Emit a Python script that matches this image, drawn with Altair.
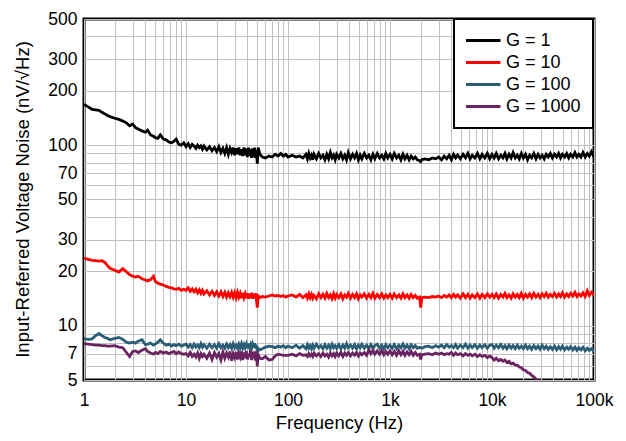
import altair as alt
import pandas as pd

# Frequency grid (Hz), per decade
f_d0 = [1, 1.1, 1.2, 1.3, 1.4, 1.5, 1.6, 1.7, 1.8, 2, 2.2, 2.4, 2.6, 2.8, 3, 3.2, 3.4, 3.7, 4, 4.2,
        4.5, 4.8, 5, 5.3, 5.6, 6, 6.4, 6.8, 7.2, 7.6, 8, 8.5, 9, 9.5]
f_d1 = [10, 10.5, 11, 11.5, 12, 12.5, 13, 13.5, 14, 14.5,
        15, 16, 17, 18, 19, 20, 21, 22, 23, 24, 25, 26, 27, 28, 29, 30, 31, 32, 33, 34,
        35, 36, 37, 38, 39, 40, 41, 42, 43, 44, 45, 46, 47, 48, 49, 50,
        51, 53, 56, 60, 65, 70, 75, 80, 85, 90, 95]
f_d2 = [100, 110, 120, 130, 140, 150, 155, 160, 165, 170, 175, 180,
        190, 200, 210, 220, 230, 240, 250, 260, 270, 280, 290, 300,
        315, 330, 345, 360, 375, 390, 410, 430, 450, 470, 490, 510, 530,
        560, 590, 620, 650, 680, 710, 750, 790, 830, 870, 910, 950]
f_d3 = [1000, 1050, 1100, 1160, 1220, 1280, 1340, 1400, 1470, 1540, 1610, 1690, 1770, 1850, 1950,
        2000, 2050, 2200, 2400, 2600, 2800, 3000, 3200, 3400, 3600, 3800,
        4000, 4200, 4400, 4600, 4900, 5200, 5500, 5800, 6100, 6400,
        6800, 7200, 7600, 8000, 8500, 9000, 9500]
f_d4 = [10000, 10500, 11000, 11600, 12200, 12800, 13400, 14000, 14700, 15400,
        16100, 16900, 17700, 18500, 19400, 20300, 21300, 22300, 23400, 24500,
        25700, 27000, 28300, 29600, 31000, 32500, 34000, 35600, 37300, 39100,
        41000, 43000, 45000, 47000, 49000, 51500, 54000, 56500, 59000, 62000,
        65000, 68000, 71000, 74500, 78000, 82000, 86000, 90000, 94500, 100000]

# G = 1 (nV/rtHz)
g1_d0 = [168, 163, 158, 157, 156, 152, 149, 146, 144, 141, 139, 136, 133, 128, 131, 125, 123, 120, 118, 121,
         114, 112, 110, 109, 114, 108, 107, 104, 103, 105, 108, 101, 100, 103]
g1_d1 = [98, 102, 97, 101, 99, 96, 100, 97, 99, 95,
         99, 94, 98, 93, 97, 92, 98, 91, 96, 90, 97, 89, 96, 91, 97, 88, 96, 89, 97, 88,
         95, 87, 97, 88, 96, 86, 97, 87, 95, 85, 96, 86, 97, 85, 94, 79,
         97, 89, 86, 85, 87, 86, 89, 87, 90, 87, 89]
g1_d2 = [86, 88, 86, 87, 85, 89, 84, 90, 85, 88, 83, 89,
         84, 90, 85, 88, 83, 89, 84, 91, 85, 88, 83, 89,
         85, 90, 84, 88, 83, 91, 84, 89, 85, 90, 83, 88, 84,
         90, 85, 88, 83, 89, 84, 90, 85, 88, 84, 90, 85]
g1_d3 = [89, 84, 90, 85, 88, 83, 89, 84, 88, 83, 87, 84, 86, 83, 82,
         81, 83, 84, 83, 85, 84, 86, 83, 87, 84, 88,
         83, 89, 85, 88, 84, 89, 85, 90, 84, 88,
         85, 90, 84, 89, 85, 90, 84]
g1_d4 = [89, 85, 90, 84, 88, 85, 90, 84, 89, 85,
         91, 85, 88, 84, 90, 85, 89, 83, 88, 85,
         90, 84, 89, 85, 88, 84, 89, 86, 90, 85,
         89, 86, 90, 85, 89, 86, 90, 85, 89, 86,
         91, 86, 89, 86, 91, 86, 90, 87, 92, 86]

# G = 10
g10_d0 = [23.7, 23.3, 23.0, 22.9, 22.8, 22.9, 22.4, 21.5, 20.8, 20.3,
          19.8, 20.7, 19.9, 19.2, 18.8, 18.6, 18.8, 18.2, 17.9, 17.7,
          18.0, 18.8, 17.6, 17.2, 17.0, 16.8, 16.5, 16.3, 16.2, 16.0,
          15.9, 16.1, 15.7, 15.9]
g10_d1 = [15.7, 16.2, 15.5, 16.0, 15.4, 15.9, 15.2, 15.8, 15.1, 15.7,
          15.0, 15.6, 14.8, 15.5, 14.7, 15.4, 14.6, 15.4, 14.5, 15.3,
          14.4, 15.2, 14.5, 15.3, 14.4, 15.2, 14.3, 15.3, 14.4, 15.1,
          14.2, 15.2, 14.3, 15.0, 14.2, 15.1, 14.1, 15.0, 14.2, 15.2,
          14.1, 15.0, 14.2, 15.1, 14.0, 12.6,
          14.6, 14.3, 14.5, 14.4, 14.6, 14.8, 14.6, 14.7, 14.5, 14.7, 14.4]
g10_d2 = [14.6, 14.8, 14.4, 14.9, 14.3, 14.8, 14.2, 15.0, 14.3, 14.9, 14.2, 14.7,
          14.1, 15.0, 14.3, 14.9, 14.2, 15.1, 14.3, 14.8, 14.1, 15.0, 14.2, 14.9,
          14.3, 15.0, 14.1, 14.8, 14.4, 15.1,
          14.2, 14.9, 14.3, 15.0, 14.1, 14.8, 14.4,
          15.0, 14.2, 14.9, 14.3, 15.1, 14.2,
          14.9, 14.3, 15.0, 14.2, 14.8, 14.3]
g10_d3 = [14.9, 14.2, 15.0, 14.3, 14.8, 14.2, 15.0, 14.3, 14.8, 14.2, 14.9, 14.3, 14.7, 14.2, 14.4,
          12.6, 14.3,
          14.4, 14.3, 14.5, 14.4, 14.6, 14.3, 14.7, 14.4, 14.8,
          14.3, 14.9, 14.4, 14.8,
          14.2, 15.0, 14.3, 14.9, 14.2, 14.8,
          14.3, 15.0, 14.2, 14.9,
          14.3, 15.0, 14.4]
g10_d4 = [14.9, 14.3, 15.0, 14.2, 14.9, 14.4, 15.1, 14.3, 14.8, 14.2,
          15.0, 14.4, 14.9, 14.3, 15.1, 14.2, 14.9, 14.4, 15.0, 14.3,
          15.1, 14.4, 14.9, 14.3, 15.0, 14.5, 15.1, 14.4, 14.9, 14.5,
          15.1, 14.4, 15.0, 14.5, 15.2, 14.4, 15.0, 14.5, 15.1, 14.6,
          15.3, 14.5, 15.0, 14.6, 15.2, 14.5, 15.6, 14.7, 15.3, 14.8]

# G = 100
g100_d0 = [8.45, 8.4, 8.45, 8.8, 9.05, 8.8, 8.6, 8.5, 8.35, 8.5,
           8.6, 8.4, 8.1, 8.0, 8.1, 8.0, 8.2, 8.35, 7.85, 7.9,
           8.0, 7.8, 7.9, 8.1, 8.35, 8.0, 7.8, 7.9, 7.7, 7.85,
           7.75, 7.9, 7.7, 7.8]
g100_d1 = [7.9, 7.6, 7.85, 7.55, 7.9, 7.6, 7.8, 7.55, 7.95, 7.6,
           7.85, 7.5, 7.9, 7.55, 7.85, 7.5, 7.95, 7.55, 7.8, 7.5,
           7.9, 7.55, 7.85, 7.5, 7.95, 7.55, 7.8, 7.5, 7.9, 7.55,
           7.95, 7.5, 7.85, 7.55, 7.9, 7.5, 7.95, 7.55, 7.85, 7.5,
           7.9, 7.55, 8.0, 7.5, 7.85, 7.05,
           7.5, 7.35, 7.45, 7.6, 7.7, 7.65, 7.55, 7.7, 7.6, 7.75, 7.55]
g100_d2 = [7.7, 7.55, 7.8, 7.5, 7.75, 7.45, 7.85, 7.5, 7.75, 7.45, 7.8, 7.5,
           7.9, 7.55, 7.75, 7.45, 7.85, 7.5, 7.8, 7.45, 7.9, 7.55, 7.75, 7.5,
           7.85, 7.45, 7.8, 7.5, 7.95, 7.55,
           7.8, 7.5, 7.85, 7.45, 7.8, 7.55, 7.9,
           7.5, 7.8, 7.45, 7.85, 7.5, 7.75,
           7.9, 7.5, 7.8, 7.45, 7.85, 7.55]
g100_d3 = [7.8, 7.5, 7.85, 7.45, 7.8, 7.55, 7.9, 7.5, 7.8, 7.45, 7.85, 7.55, 7.75, 7.5, 7.6,
           7.55, 7.5,
           7.65, 7.7, 7.55, 7.75, 7.6, 7.8, 7.55, 7.85, 7.6,
           7.75, 7.55, 7.85, 7.5,
           7.8, 7.55, 7.9, 7.5, 7.8, 7.55,
           7.85, 7.5, 7.8, 7.55,
           7.85, 7.5, 7.8]
g100_d4 = [7.85, 7.5, 7.8, 7.55, 7.85, 7.5, 7.75, 7.45, 7.8, 7.5,
           7.75, 7.45, 7.8, 7.5, 7.7, 7.45, 7.8, 7.45, 7.7, 7.4,
           7.75, 7.45, 7.7, 7.4, 7.8, 7.45, 7.7, 7.4, 7.65, 7.4,
           7.7, 7.35, 7.65, 7.4, 7.7, 7.35, 7.6, 7.4, 7.65, 7.35,
           7.6, 7.3, 7.55, 7.35, 7.6, 7.25, 7.5, 7.3, 7.45, 7.2]

# G = 1000
g1000_d0 = [7.95, 7.9, 7.85, 7.8, 7.8, 7.75, 7.75, 7.7, 7.7, 7.75,
            7.6, 7.55, 7.1, 6.75, 7.2, 7.25, 7.1, 7.3, 7.45, 7.2,
            7.05, 6.95, 7.1, 7.0, 7.2, 7.05, 7.15, 7.0, 7.1, 7.2,
            7.0, 7.15, 7.0, 6.95]
g1000_d1 = [7.0, 6.8, 7.1, 6.75, 6.95, 6.7, 7.05, 6.6, 7.0, 6.75,
            6.95, 6.6, 7.05, 6.5, 7.1, 6.7, 7.0, 6.45, 7.15, 6.6,
            7.05, 6.7, 7.2, 6.4, 7.0, 6.65, 7.15, 6.5, 7.05, 6.7,
            7.2, 6.45, 7.1, 6.6, 7.25, 6.5, 7.0, 6.7, 7.3, 6.45,
            7.15, 6.6, 7.2, 6.4, 7.05, 5.95,
            6.9, 6.6, 6.55, 6.75, 6.45, 6.5, 6.8, 6.95, 6.9, 6.85, 6.85]
g1000_d2 = [6.85, 6.95, 6.8, 7.0, 6.85, 6.9, 6.75, 7.0, 6.8, 6.95, 6.75, 7.05,
            6.8, 7.0, 6.75, 7.05, 6.8, 6.95, 6.7, 7.05, 6.8, 7.0, 6.75, 7.05,
            6.8, 7.1, 6.75, 7.05, 6.85, 7.1,
            6.8, 7.05, 6.85, 7.1, 6.8, 7.05, 6.9,
            7.1, 6.85, 7.35, 7.0, 7.3, 6.95,
            7.25, 6.95, 7.3, 6.9, 7.2, 6.95]
g1000_d3 = [7.25, 6.9, 7.2, 6.85, 7.25, 6.9, 7.2, 6.85, 7.15, 6.9, 7.2, 6.85, 7.1, 6.85, 6.95,
            6.5, 6.9,
            6.95, 7.0, 6.9, 7.05, 6.95, 7.05, 6.9, 7.0, 6.95,
            7.1, 6.85, 7.05, 6.9,
            7.0, 6.8, 7.0, 6.85, 6.95, 6.8,
            6.95, 6.75, 6.9, 6.75,
            6.85, 6.65, 6.8]
g1000_d4 = [6.65, 6.45, 6.6, 6.4, 6.5, 6.35, 6.45, 6.25, 6.35, 6.15,
            6.2, 6.05, 6.05, 5.9, 5.85, 5.7, 5.65, 5.5, 5.45, 5.3,
            5.2, 5.05, 4.95, 4.8, 4.65, 4.5]

freq_decades = [f_d0, f_d1, f_d2, f_d3, f_d4]
series = {
    "G = 1": [g1_d0, g1_d1, g1_d2, g1_d3, g1_d4],
    "G = 10": [g10_d0, g10_d1, g10_d2, g10_d3, g10_d4],
    "G = 100": [g100_d0, g100_d1, g100_d2, g100_d3, g100_d4],
    "G = 1000": [g1000_d0, g1000_d1, g1000_d2, g1000_d3, g1000_d4],
}
labels = ["G = 1", "G = 10", "G = 100", "G = 1000"]
colors = ["#000000", "#ff0000", "#2a5e76", "#6a2461"]

rows = []
for name, decs in series.items():
    order = 0
    for fs, vs in zip(freq_decades, decs):
        for f, v in zip(fs, vs):
            rows.append({"f": f, "v": v, "g": name, "o": order})
            order += 1
df = pd.DataFrame(rows)

x_grid = [1, 2, 3, 4, 5, 6, 7, 8, 9, 10, 20, 30, 40, 50, 60, 70, 80, 90,
          100, 200, 300, 400, 500, 600, 700, 800, 900,
          1000, 2000, 3000, 4000, 5000, 6000, 7000, 8000, 9000,
          10000, 20000, 30000, 40000, 50000, 60000, 70000, 80000, 90000, 100000]
y_grid = [5, 6, 7, 8, 9, 10, 20, 30, 40, 50, 60, 70, 80, 90, 100, 200, 300, 400, 500]

font = "Liberation Sans"

chart = alt.Chart(df).mark_line(strokeWidth=2.8, clip=True).encode(
    x=alt.X("f:Q",
            scale=alt.Scale(type="log", domain=[1, 100000], nice=False),
            axis=alt.Axis(title="Frequency (Hz)", values=x_grid, format="~s",
                          labelExpr="indexof([1,10,100,1000,10000,100000], datum.value) >= 0 ? datum.label : ''",
                          labelOverlap=False, labelFlush=False, labelPadding=11,
                          titlePadding=5)),
    y=alt.Y("v:Q",
            scale=alt.Scale(type="log", domain=[5, 500], nice=False),
            axis=alt.Axis(title="Input-Referred Voltage Noise (nV/√Hz)", values=y_grid, format="~s",
                          labelExpr="indexof([5,7,10,20,30,50,70,100,200,300,500], datum.value) >= 0 ? datum.label : ''",
                          labelOverlap=False, labelFlush=False, labelPadding=7,
                          titleX=-62, titleY=180, titleAngle=-90, titleBaseline="middle",
                          titleAlign="center")),
    color=alt.Color("g:N", scale=alt.Scale(domain=labels, range=colors), sort=labels,
                    legend=alt.Legend(title=None, orient="none", legendX=370, legendY=0,
                                      fillColor="white", strokeColor="black",
                                      padding=12, symbolType="stroke", symbolStrokeWidth=3,
                                      symbolSize=1296, clipHeight=19, symbolOffset=-3,
                                      labelFontSize=18, labelFont=font,
                                      labelOffset=4, rowPadding=3, labelColor="black")),
    order="o:Q",
    detail="g:N",
).properties(
    width=510, height=361,
    autosize=alt.AutoSizeParams(type="none"),
    padding={"left": 76, "top": 11, "right": 22, "bottom": 60},
).configure_view(
    stroke="black", strokeWidth=3
).configure_legend(
    strokeWidth=2
).configure_axis(
    domain=False, ticks=False, grid=True, gridColor="#c0c0c0", gridWidth=1,
    labelFont=font, labelFontSize=17.5, labelColor="black",
    titleFont=font, titleFontSize=18.5, titleColor="black", titleFontWeight="normal",
)

chart.save("out.html", embed_options={"renderer": "svg", "actions": False})
